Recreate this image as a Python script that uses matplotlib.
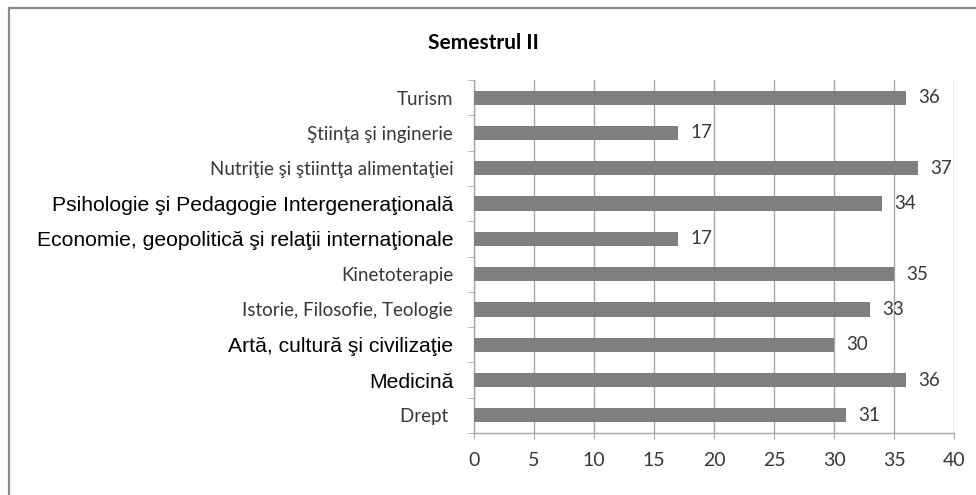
import matplotlib
matplotlib.use("Agg")
import matplotlib.pyplot as plt
from matplotlib.lines import Line2D

# categories bottom -> top
categories = [
    "Drept ",
    "Medicină",
    "Artă, cultură şi civilizaţie",
    "Istorie, Filosofie, Teologie",
    "Kinetoterapie",
    "Economie, geopolitică şi relaţii internaţionale",
    "Psihologie şi Pedagogie Intergeneraţională",
    "Nutriţie şi ştiintţa alimentaţiei",
    "Ştiinţa şi inginerie",
    "Turism",
]
values = [31, 36, 30, 33, 35, 17, 34, 37, 17, 36]
# labels that were typed in Arial in the original sheet
arial_labels = {
    "Medicină",
    "Artă, cultură şi civilizaţie",
    "Economie, geopolitică şi relaţii internaţionale",
    "Psihologie şi Pedagogie Intergeneraţională",
}
x_ticks = [0, 5, 10, 15, 20, 25, 30, 35, 40]

CALIBRI = ["Lato", "DejaVu Sans"]
ARIAL = ["Liberation Sans", "DejaVu Sans"]
GRID = "#a6a6a6"
BAR = "#7f7f7f"
FS = 13.5

fig = plt.figure(figsize=(9.76, 4.95), dpi=100)
fig.patch.set_facecolor("white")

# chart-area border (only top and left edges are visible in the crop)
fig.add_artist(Line2D([9 / 976, 9 / 976], [0, 1 - 8 / 495], color="#8a8a8a",
                      lw=1.6, transform=fig.transFigure))
fig.add_artist(Line2D([9 / 976, 1], [1 - 8 / 495, 1 - 8 / 495], color="#8a8a8a",
                      lw=1.6, transform=fig.transFigure))

ax = fig.add_axes([474 / 976, 62 / 495, 480 / 976, 353 / 495])
ypos = list(range(len(categories)))
ax.barh(ypos, values, height=0.4, color=BAR, zorder=3)

for y, v in zip(ypos, values):
    ax.annotate(str(v), (v, y), xytext=(12, 0), textcoords="offset pixels",
                ha="left", va="center", fontsize=FS, family=CALIBRI,
                color="#383838", zorder=4)

ax.set_xlim(0, 40)
ax.set_ylim(-0.5, len(categories) - 0.5)
ax.set_xticks(x_ticks)
ax.set_xticklabels([str(t) for t in x_ticks], family=CALIBRI, fontsize=14,
                   color="#383838")
ax.grid(axis="x", color=GRID, lw=1, zorder=0)
ax.set_axisbelow(True)

# category labels centred on bars, tick marks on the boundaries
ax.set_yticks(ypos)
ax.set_yticklabels(categories)
ax.tick_params(axis="y", which="major", length=0, pad=15)
ax.set_yticks([i - 0.5 for i in range(len(categories) + 1)], minor=True)
ax.tick_params(axis="y", which="minor", length=4, color=GRID, direction="out")
ax.tick_params(axis="x", length=4, color=GRID, pad=10)

for lbl in ax.get_yticklabels():
    if lbl.get_text() in arial_labels:
        lbl.set_family(ARIAL)
        lbl.set_fontsize(15.2)
        lbl.set_color("black")
    else:
        lbl.set_family(CALIBRI)
        lbl.set_fontsize(FS)
        lbl.set_color("#383838")

for side in ("top", "right"):
    ax.spines[side].set_visible(False)
for side in ("left", "bottom"):
    ax.spines[side].set_color(GRID)
    ax.spines[side].set_linewidth(1)

fig.text(483 / 976, 1 - 43 / 495, "Semestrul II", ha="center", va="center",
         fontsize=15, fontweight="bold", family=CALIBRI, color="black")

fig.savefig("out.png", dpi=100, facecolor="white")
